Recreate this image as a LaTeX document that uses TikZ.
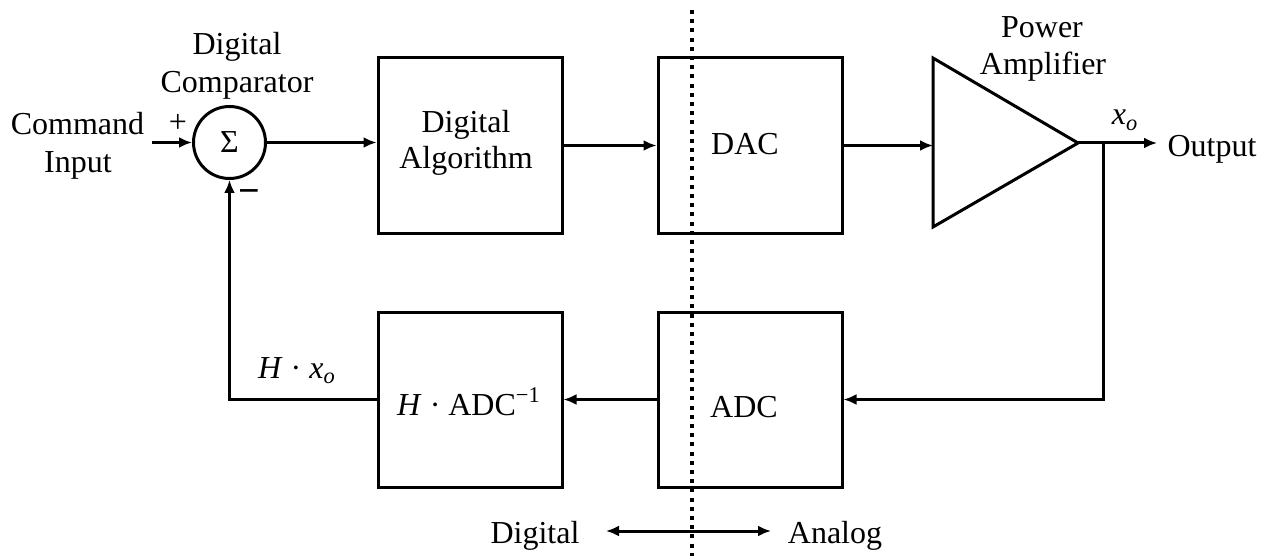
\documentclass[tikz,border=0pt]{standalone}
\usepackage{fontspec}
\setmainfont{Liberation Serif}
\usetikzlibrary{arrows.meta}
\begin{document}
\begin{tikzpicture}[x=0.5pt,y=-0.5pt,
  every node/.style={font=\fontsize{16}{19}\selectfont, inner sep=0pt},
  blockbox/.style={draw, line width=1.5pt, minimum width=92pt, minimum height=87.5pt},
  sumnode/.style={draw, circle, line width=1.5pt, minimum size=36pt},
  wire/.style={line width=1.5pt},
  arr/.style={wire, -{Latex[length=6.5pt,width=5.5pt]}},
  dblarr/.style={wire, {Latex[length=6.5pt,width=5.5pt]}-{Latex[length=6.5pt,width=5.5pt]}},
  divider/.style={line width=1.6pt, dash pattern=on 2pt off 2.6pt},
  lbl/.style={anchor=base},
]
\useasboundingbox (0,0) rectangle (1270,556);

% blocks
\node[blockbox] (alg)  at (470,145.5) {};
\node[blockbox] (dac)  at (750,145.5) {};
\node[blockbox] (hadc) at (470,399.5) {};
\node[blockbox] (adc)  at (750,399.5) {};
\node[sumnode]  (sum)  at (229.5,142.5) {Σ};

% amplifier triangle
\coordinate (ampA) at (933,58);
\coordinate (ampB) at (933,227);
\coordinate (amptip) at (1078,143);
\coordinate (ampin) at (933,145.5);
\draw[wire, line join=miter] (ampA) -- (ampB) -- (amptip) -- cycle;

% texts in blocks
\node[lbl] (algt1) at (466,133) {Digital};
\node[lbl] (algt2) at (466,169) {Algorithm};
\node[lbl] (dact)  at (745,155) {DAC};
\node[lbl] (adct)  at (744,417) {ADC};
\node[lbl] (hadct) at (469,415) {\textit{H} · ADC\textsuperscript{−1}};

% labels
\node[lbl] (cmd1) at (77.5,134) {Command};
\node[lbl] (cmd2) at (78,173) {Input};
\node[lbl] (cmp1) at (237,55) {Digital};
\node[lbl] (cmp2) at (237,93) {Comparator};
\node[lbl] (pw1) at (1042,38) {Power};
\node[lbl] (pw2) at (1043,75) {Amplifier};
\node (plus) at (178,123) {+};
\node (minus) at (249,197) {\fontsize{19}{19}\selectfont\bfseries −};
\node[lbl] (xo) at (1125,125) {\textit{x}\textsubscript{\textit{o}}};
\node[lbl] (outt) at (1212,157) {Output};
\node[lbl] (hxo) at (297,378) {\textit{H} · \textit{x}\textsubscript{\textit{o}}};
\node[lbl] (digt) at (535,543) {Digital};
\node[lbl] (anat) at (835,543) {Analog};

% connectors
\coordinate (cin) at (152,142.5);
\draw[arr] (cin) -- (sum.west);
\draw[arr] (sum.east) -- (sum.east -| alg.west);
\draw[arr] (alg.east) -- (dac.west);
\draw[arr] (dac.east) -- (ampin);
\coordinate (outend) at (1157,143);
\draw[arr] (amptip) -- (outend);
\coordinate (fbtop) at (1103,143);
\draw[arr] (fbtop) |- (adc.east);
\draw[arr] (adc.west) -- (hadc.east);
\draw[arr] (hadc.west) -| (sum.south);

% digital / analog divider
\coordinate (dtop) at (692,10);
\coordinate (dbot) at (692,556);
\draw[divider] (dtop) -- (dbot);
\coordinate (dl) at (606,531);
\coordinate (dr) at (771,531);
\draw[dblarr] (dl) -- (dr);
\end{tikzpicture}
\end{document}
